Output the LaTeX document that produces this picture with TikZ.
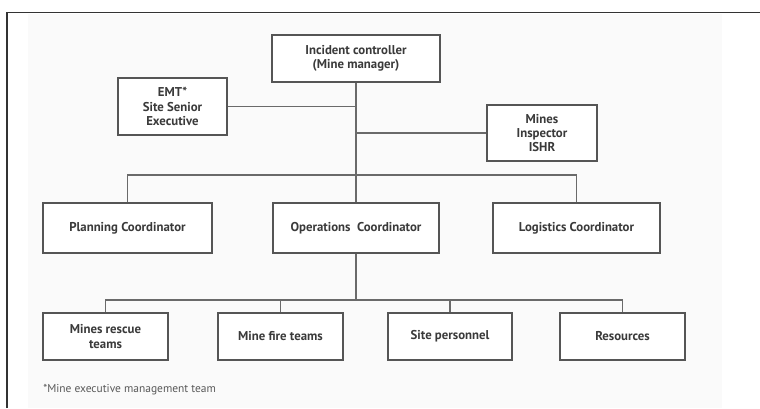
\documentclass[tikz,border=0pt]{standalone}
\usepackage{fontspec}
\newfontfamily\boxfont{PT Sans}
\usetikzlibrary{shadows}
\definecolor{framecol}{HTML}{333333}
\definecolor{boxline}{HTML}{555555}
\definecolor{conncol}{HTML}{6A6A6A}
\definecolor{txtcol}{HTML}{3A3A3A}
\definecolor{panel}{HTML}{FAFAFA}
\tikzset{
  orgbox/.style={draw=boxline, line width=1.1pt, fill=white, align=center,
    text=txtcol, font=\boxfont\bfseries\fontsize{9.6}{10.7}\selectfont,
    inner sep=1pt,
    drop shadow={shadow xshift=0.9pt, shadow yshift=-0.9pt, fill=gray!70, opacity=0.8}},
  conn/.style={draw=conncol, line width=1.2pt},
  note/.style={text=gray!70!black, font=\boxfont\fontsize{8.6}{9.5}\selectfont, anchor=west, inner sep=0pt}
}
\begin{document}
\begin{tikzpicture}[x=0.75pt,y=-0.75pt]
\useasboundingbox (0,0) rectangle (760,408);
\fill[white] (0,0) rectangle (760,408);
\fill[panel] (28,13.5) rectangle (722,408);
\draw[framecol, line width=1.2pt] (7,408) -- (7,12.5) -- (760,12.5);

\node[orgbox, minimum width=126pt, minimum height=35.25pt] (inc) at (356,58.5) {Incident controller\\(Mine manager)};
\node[orgbox, minimum width=81.75pt, minimum height=42.75pt] (emt) at (172.5,106.5) {EMT*\\Site Senior\\Executive};
\node[orgbox, minimum width=82.5pt, minimum height=42pt] (insp) at (542,133) {Mines\\Inspector\\ISHR};

\node[orgbox, minimum width=126.75pt, minimum height=37.5pt] (plan) at (127.5,228) {Planning Coordinator};
\node[orgbox, minimum width=124.5pt, minimum height=37.5pt] (ops) at (356,228) {Operations\ \ Coordinator};
\node[orgbox, minimum width=125.25pt, minimum height=37.5pt] (log) at (576.5,228) {Logistics Coordinator};

\node[orgbox, minimum width=93.75pt, minimum height=35.25pt] (mr) at (105.5,336.5) {Mines rescue\\teams};
\node[orgbox, minimum width=93.75pt, minimum height=35.25pt] (ff) at (280.5,336.5) {Mine fire teams};
\node[orgbox, minimum width=93pt, minimum height=35.25pt] (sp) at (450,336.5) {Site personnel};
\node[orgbox, minimum width=93.75pt, minimum height=35.25pt] (res) at (622.5,336.5) {Resources};

\coordinate (bb) at (356,300);

\draw[conn] (inc.south) -- (ops.north);
\draw[conn] (emt.east) -- (emt.east -| inc.south);
\draw[conn] (insp.west) -- (insp.west -| inc.south);
\draw[conn] (plan.north) -- ++(0,-27) -| (log.north);
\draw[conn] (ops.south) -- (bb);
\draw[conn] (mr.north) -- (mr.north |- bb) -- (res.north |- bb) -- (res.north);
\draw[conn] (ff.north) -- (ff.north |- bb);
\draw[conn] (sp.north) -- (sp.north |- bb);

\node[note] (fn) at (43,390) {*Mine executive management team};
\end{tikzpicture}
\end{document}
